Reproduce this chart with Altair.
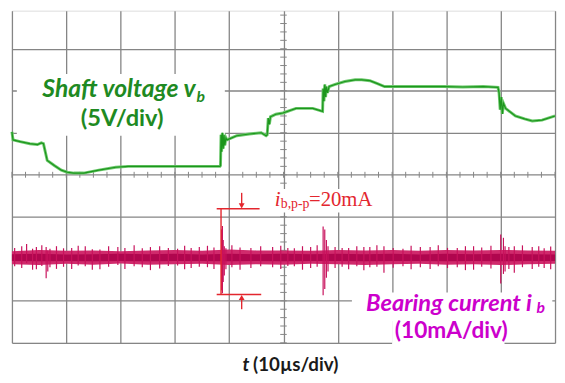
import altair as alt
import pandas as pd
import numpy as np

# ---------------- data (units: screen divisions) ----------------
# shaft voltage trace (5 V/div), x in time divisions (10 us/div)
volt_t = [0.00, 0.02, 0.15, 0.33, 0.47, 0.54, 0.58, 0.65, 0.78, 0.91, 1.02, 1.14, 1.32, 1.60, 1.91,
          2.14, 2.50, 3.00, 3.41, 3.83, 3.84, 3.85, 3.86, 3.875, 3.89, 3.905, 3.92, 3.94, 3.96,
          4.14, 4.37, 4.59, 4.68, 4.70, 4.72, 4.74, 4.76, 4.86, 4.99, 5.23, 5.54, 5.72,
          5.73, 5.745, 5.76, 5.775, 5.79, 5.81, 5.84, 5.95, 6.13, 6.32, 6.44, 6.59, 6.73,
          6.86, 7.04, 7.50, 7.95, 8.30, 8.68, 8.95, 8.97, 8.99, 9.01, 9.03, 9.05, 9.09, 9.27,
          9.44, 9.58, 9.76, 10.00]
volt_v = [1.02, 0.83, 0.79, 0.74, 0.72, 0.76, 0.74, 0.34, 0.22, 0.11, 0.06, 0.04, 0.04, 0.11, 0.18,
          0.20, 0.20, 0.20, 0.20, 0.20, 0.22, 0.95, 0.55, 1.00, 0.62, 0.95, 0.70, 0.88, 0.83,
          0.93, 0.97, 1.00, 0.93, 0.95, 1.35, 1.20, 1.38, 1.44, 1.47, 1.58, 1.58, 1.51,
          2.05, 1.75, 2.15, 1.85, 2.10, 1.95, 2.10, 2.15, 2.22, 2.26, 2.26, 2.24, 2.17,
          2.10, 2.10, 2.10, 2.10, 2.09, 2.10, 2.08, 1.95, 1.55, 1.85, 1.45, 1.70, 1.58, 1.40,
          1.33, 1.28, 1.30, 1.40]

# bearing current (10 mA/div): noise band envelope
cur_t = [0.0, 0.5, 1.0, 1.5, 2.0, 2.5, 3.0, 3.5, 4.0, 4.5, 5.0, 5.5, 6.0, 6.5, 7.0, 7.5, 8.0, 8.5, 9.0, 9.5, 10.0]
cur_hi = [-1.82, -1.79, -1.81, -1.80, -1.82, -1.80, -1.79, -1.81, -1.78, -1.80, -1.80, -1.81, -1.79,
          -1.80, -1.79, -1.81, -1.79, -1.80, -1.79, -1.80, -1.81]
cur_lo = [-2.13, -2.15, -2.12, -2.14, -2.11, -2.14, -2.13, -2.12, -2.15, -2.13, -2.14, -2.12, -2.13,
          -2.15, -2.13, -2.12, -2.14, -2.13, -2.15, -2.13, -2.12]
cur_hi_core = [-1.89, -1.88, -1.90, -1.89, -1.88, -1.89, -1.88, -1.90, -1.88, -1.89, -1.88, -1.89, -1.88,
               -1.89, -1.88, -1.90, -1.88, -1.89, -1.88, -1.89, -1.90]
cur_lo_core = [-2.05, -2.06, -2.05, -2.06, -2.05, -2.06, -2.05, -2.05, -2.06, -2.05, -2.06, -2.05, -2.05,
               -2.06, -2.05, -2.05, -2.06, -2.05, -2.06, -2.05, -2.05]

# noise spikes and ringing bursts of the current: time, low, high
spk_t = [0.05, 0.18, 0.27, 0.38, 0.45, 0.55, 0.63, 0.66, 0.70, 0.82, 0.95, 1.10, 1.22, 1.35, 1.48, 1.62,
         1.78, 1.95, 2.08, 2.25, 2.40, 2.55, 2.72, 2.88, 3.05, 3.18, 3.30, 3.45, 3.60, 3.72,
         3.86, 3.875, 3.89, 3.91, 3.94, 4.05, 4.20, 4.40, 4.58, 4.80, 4.95, 5.08, 5.20, 5.35, 5.50, 5.62,
         5.73, 5.76, 5.79, 5.82, 5.95, 6.08, 6.20, 6.35, 6.48, 6.59, 6.72, 6.85, 7.02, 7.20, 7.35, 7.52,
         7.70, 7.85, 8.02, 8.20, 8.35, 8.50, 8.65, 8.82,
         9.00, 9.05, 9.08, 9.15, 9.25, 9.40, 9.58, 9.70, 9.80, 9.92]
spk_lo = [-2.18, -2.22, -2.10, -2.26, -2.25, -2.17, -2.46, -2.30, -2.20, -2.24, -2.19, -2.24, -2.16, -2.18, -2.26, -2.25,
          -2.19, -2.15, -2.24, -2.18, -2.20, -2.27, -2.23, -2.17, -2.16, -2.25, -2.22, -2.19, -2.20, -2.24,
          -2.75, -2.82, -2.55, -2.40, -2.25, -2.20, -2.26, -2.22, -2.18, -2.20, -2.24, -2.17, -2.18, -2.26, -2.22, -2.19,
          -2.87, -2.72, -2.45, -2.30, -2.22, -2.19, -2.25, -2.18, -2.27, -2.20, -2.19, -2.33, -2.21, -2.18, -2.25, -2.20,
          -2.24, -2.18, -2.22, -2.20, -2.27, -2.26, -2.19, -2.23,
          -2.59, -2.36, -2.30, -2.24, -2.33, -2.20, -2.24, -2.19, -2.22, -2.25]
spk_hi = [-1.74, -1.70, -1.65, -1.76, -1.72, -1.68, -1.72, -1.80, -1.76, -1.70, -1.75, -1.74, -1.69, -1.70, -1.77, -1.78,
          -1.70, -1.72, -1.74, -1.68, -1.75, -1.72, -1.70, -1.74, -1.76, -1.69, -1.74, -1.72, -1.69, -1.73,
          -1.30, -1.22, -1.55, -1.70, -1.75, -1.68, -1.73, -1.74, -1.70, -1.72, -1.69, -1.74, -1.75, -1.70, -1.72, -1.68,
          -1.23, -1.30, -1.55, -1.70, -1.72, -1.74, -1.74, -1.70, -1.72, -1.72, -1.68, -1.70, -1.74, -1.76, -1.69, -1.72,
          -1.72, -1.68, -1.74, -1.74, -1.70, -1.70, -1.73, -1.69,
          -1.42, -1.50, -1.70, -1.72, -1.70, -1.68, -1.72, -1.70, -1.75, -1.71]

# ---------------- scales ----------------
XS = alt.Scale(domain=[0, 10], nice=False, zero=False)
YS = alt.Scale(domain=[-4, 3.906], nice=False, zero=False)
XA = alt.Axis(values=list(range(0, 11)), grid=True, labels=False, ticks=False, domain=False, title=None,
              gridColor="#858585", gridWidth=1.3, gridOpacity=1)
YA = alt.Axis(values=list(range(-4, 4)), grid=True, labels=False, ticks=False, domain=False, title=None,
              gridColor="#858585", gridWidth=1.3, gridOpacity=1)


def X(f, **kw):
    return alt.X(f, type="quantitative", scale=XS, axis=XA, **kw)


def Y(f, **kw):
    return alt.Y(f, type="quantitative", scale=YS, axis=YA, **kw)


volt = pd.DataFrame({"t": volt_t, "v": volt_v})
cur = pd.DataFrame({"t": cur_t, "hi": cur_hi, "lo": cur_lo, "hc": cur_hi_core, "lc": cur_lo_core})
spk = pd.DataFrame({"t": spk_t, "lo": spk_lo, "hi": spk_hi})

# minor ticks on the centre lines
vt = pd.DataFrame({"y": np.round(np.arange(-4, 3.95, 0.2), 3)})
vt["x1"] = 4.94
vt["x2"] = 5.06
ht = pd.DataFrame({"x": np.arange(0, 10.01, 0.25)})
ht["y1"] = -0.07
ht["y2"] = 0.07

grid = alt.Chart(pd.DataFrame({"x": [0], "y": [0]})).mark_point(opacity=0).encode(x=X("x"), y=Y("y"))

minor_v = alt.Chart(vt).mark_rule(color="#858585", strokeWidth=1).encode(x=X("x1"), x2="x2", y=Y("y"))
minor_h = alt.Chart(ht).mark_rule(color="#858585", strokeWidth=1).encode(x=X("x"), y=Y("y1"), y2="y2")

# white label boxes covering the grid
boxes = pd.DataFrame({
    "x1": [0.09, 4.65, 6.26, 7.00],
    "x2": [3.92, 6.59, 9.95, 9.07],
    "y1": [2.40, -0.34, -2.80, -3.41],
    "y2": [0.93, -0.90, -3.48, -4.12],
})
box = alt.Chart(boxes).mark_rect(color="white").encode(x=X("x1"), x2="x2", y=Y("y1"), y2="y2")

volt_glow = alt.Chart(volt).mark_line(color="#6CC86C", strokeWidth=3, interpolate="linear").encode(x=X("t"), y=Y("v"))
volt_line = alt.Chart(volt).mark_line(color="#1C961C", strokeWidth=1.2, interpolate="linear").encode(x=X("t"), y=Y("v"))

cur_band = alt.Chart(cur).mark_area(color="#D02A6C", opacity=1).encode(x=X("t"), y=Y("lo"), y2="hi")
cur_core = alt.Chart(cur).mark_area(color="#B0064E", opacity=1).encode(x=X("t"), y=Y("lc"), y2="hc")
spikes = alt.Chart(spk).mark_rule(color="#C8125C", strokeWidth=1.2).encode(x=X("t"), y=Y("lo"), y2="hi")

# annotation of peak-to-peak current
RED = "#E3262E"
ann_lines = pd.DataFrame({
    "x1": [3.85, 3.77, 3.77, 4.23, 4.23],
    "x2": [3.85, 4.56, 4.59, 4.23, 4.23],
    "y1": [-0.81, -0.81, -2.85, -0.43, -3.20],
    "y2": [-2.85, -0.81, -2.85, -0.74, -2.92],
})
ann = alt.Chart(ann_lines).mark_rule(color=RED, strokeWidth=1.4).encode(x=X("x1"), x2="x2", y=Y("y1"), y2="y2")
heads = pd.DataFrame({"x": [4.23, 4.23], "y": [-0.74, -2.92], "s": ["triangle-down", "triangle-up"]})
arrow = alt.Chart(heads).mark_point(filled=True, size=35, color=RED, opacity=1).encode(
    x=X("x"), y=Y("y"), shape=alt.Shape("s:N", scale=alt.Scale(domain=["triangle-down", "triangle-up"],
                                                                   range=["triangle-down", "triangle-up"]),
                                           legend=None))


def label(text, x, y, color, size, font="Lato", weight="bold", style="italic", align="left", baseline="middle"):
    return alt.Chart(pd.DataFrame({"x": [x], "y": [y], "s": [text]})).mark_text(
        color=color, fontSize=size, font=font, fontWeight=weight, fontStyle=style, align=align,
        baseline=baseline).encode(x=X("x"), y=Y("y"), text="s:N")


GREEN = "#1E8A22"
MAG = "#CC00CC"
texts = [
    label("Shaft voltage v", 0.56, 2.03, GREEN, 25),
    label("b", 3.40, 1.85, GREEN, 16),
    label("(5V/div)", 2.03, 1.33, GREEN, 24, style="normal", align="center"),
    label("Bearing current i", 6.52, -3.09, MAG, 24),
    label("b", 9.66, -3.18, MAG, 16),
    label("(10mA/div)", 8.09, -3.72, MAG, 23, style="normal", align="center"),
    label("i", 4.84, -0.60, RED, 21, font="Liberation Serif", weight="normal"),
    label("b,p-p", 4.95, -0.70, RED, 14, font="Liberation Serif", weight="normal", style="normal"),
    label("=20mA", 5.47, -0.60, RED, 21, font="Liberation Serif", weight="normal", style="normal"),
    label("t", 4.37, -4.54, "#1A1A1A", 19, align="right"),
    label("(10µs/div)", 4.44, -4.54, "#1A1A1A", 19, style="normal"),
]

chart = alt.layer(
    grid, minor_v, minor_h, box, volt_glow, volt_line, cur_band, cur_core, spikes, ann, arrow, *texts
).properties(
    width=551, height=337,
    autosize=alt.AutoSizeParams(type="none"),
    padding={"left": 4, "top": 0, "right": 2, "bottom": 35},
).configure_view(stroke="#858585", strokeWidth=1.5).configure(background="white")

chart.save("out.html", embed_options={"renderer": "svg", "actions": False})
